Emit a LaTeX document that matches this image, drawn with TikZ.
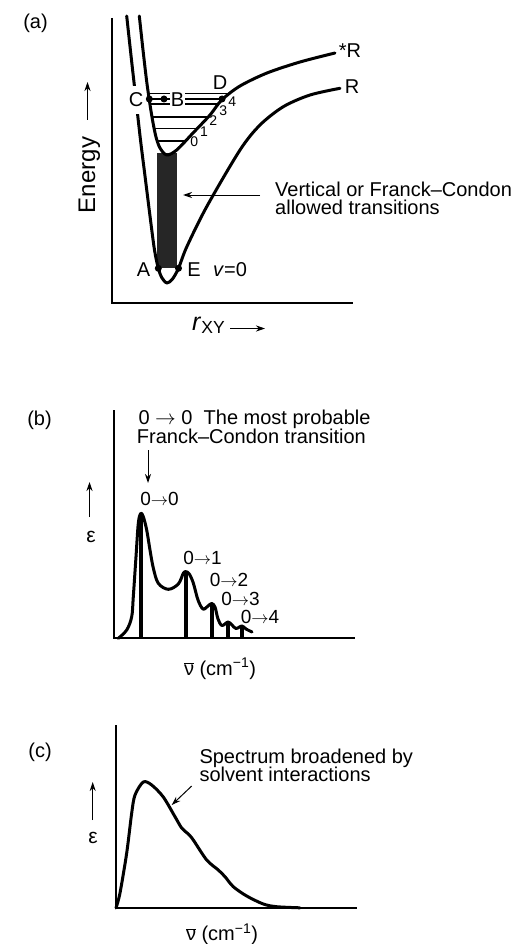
\documentclass[tikz,border=0pt]{standalone}
\usepackage{fontspec}
\setmainfont{Liberation Sans}
\usetikzlibrary{arrows.meta}
\begin{document}
\begin{tikzpicture}[x=1pt,y=-1pt,
  axisline/.style={line width=2.6pt, line join=miter},
  pcurve/.style={line width=3pt, line cap=round, line join=round},
  vlevel/.style={line width=1.1pt},
  specstick/.style={line width=4pt},
  tlabel/.style={font=\fontsize{20}{22}\selectfont, inner sep=0pt},
  plabel/.style={font=\fontsize{19}{20}\selectfont, inner sep=0pt},
  vnum/.style={font=\fontsize{14}{16}\selectfont, inner sep=0pt},
  thinarrow/.style={line width=1pt, -{Stealth[length=9pt,width=6pt]}},
  blob/.style={circle, fill=black, inner sep=0pt, minimum size=7pt},
]
\fill[white] (0,0) rectangle (516,944);
\useasboundingbox (0,0) rectangle (516,944);

% ---------------- Panel (a) ----------------
\node[tlabel] (la) at (35.5,23.5) {(a)};
\draw[axisline] (112,18) -- (112,303) -- (353,303);
\node[font=\fontsize{24}{26}\selectfont, rotate=90, anchor=base, inner sep=0pt] (energy) at (95,175) {Energy};
\coordinate (eA1) at (87.5,120); \coordinate (eA2) at (87.5,82);
\draw[thinarrow] (eA1) -- (eA2);
\node[anchor=base west, inner sep=0pt] (rxy) at (192,330) {\fontsize{25}{26}\selectfont\textit{r}\textsubscript{XY}};
\coordinate (rA1) at (230,328.5); \coordinate (rA2) at (265,328.5);
\draw[thinarrow] (rA1) -- (rA2);

% Franck-Condon band
\fill[black!85] (157,153) rectangle (177,268);

% vibrational levels, clipped to inside of the excited-state well
\begin{scope}
\clip plot[smooth] coordinates {(139.3,16) (143,50) (146.5,80) (149.3,100) (152.5,120) (156,137) (160,148) (166.7,155) (176.7,150) (193,133) (210,115) (221.7,100) (240,86) (267,73) (300,62) (335,53)} -- (335,0) -- (139.3,0) -- cycle;
\foreach \yy in {93.5,99,104,117,128.5,141} \draw[vlevel] (130,\yy) -- (250,\yy);
\end{scope}

% ground state R
\draw[pcurve] plot[smooth] coordinates {(126.7,16) (131.5,60) (136,100) (140.5,140) (145.5,180) (150.5,220) (154.5,250) (158.3,268.3) (162,278) (167,283) (172.5,279) (178.5,268.3) (186.7,247) (206.7,206.7) (240,150) (260,125) (283.3,106.7) (310,95) (340,88.3)};
\node[tlabel, anchor=base, fill=white, inner xsep=1pt, inner ysep=7pt] (lC) at (136,107) {C};
% excited state *R
\draw[pcurve] plot[smooth] coordinates {(139.3,16) (143,50) (146.5,80) (149.3,100) (152.5,120) (156,137) (160,148) (166.7,155) (176.7,150) (193,133) (210,115) (221.7,100) (240,86) (267,73) (300,62) (335,53)};

\node[tlabel, anchor=base, fill=white, inner xsep=1pt, inner ysep=0.5pt] (lB) at (177.5,106.7) {B};
\node[blob] (dC) at (149.3,99) {};
\node[blob] (dB) at (164,99) {};
\node[blob] (dD) at (222,99) {};
\node[blob] (dA) at (158.3,268.3) {};
\node[blob] (dE) at (178.5,268.3) {};
\node[tlabel, anchor=base] (lD) at (220,90) {D};
\node[tlabel, anchor=base] (lA) at (143.5,276.7) {A};
\node[tlabel, anchor=base] (lE) at (194,276.7) {E};
\node[tlabel, anchor=base west] (lv) at (213,276.7) {\textit{v}=0};
\node[tlabel, anchor=base] (lRs) at (350,58) {*R};
\node[tlabel, anchor=base] (lR) at (352,94) {R};

\node[vnum] (n0) at (194.3,141.7) {0};
\node[vnum] (n1) at (204,131.7) {1};
\node[vnum] (n2) at (213.3,120.7) {2};
\node[vnum] (n3) at (223.3,110.7) {3};
\node[vnum] (n4) at (232.3,101.7) {4};

\node[tlabel, anchor=base west] (ta1) at (275,196.7) {Vertical or Franck–Condon};
\node[tlabel, anchor=base west] (ta2) at (275,214.5) {allowed transitions};
\coordinate (aA1) at (260,195); \coordinate (aA2) at (183,195);
\draw[thinarrow] (aA1) -- (aA2);

% ---------------- Panel (b) ----------------
\node[tlabel] (lb) at (39.5,420) {(b)};
\draw[axisline] (114,410) -- (114,638) -- (355,638);
\node[tlabel, anchor=base west] (bt1) at (138.3,424.5) {0 $\rightarrow$ 0~~The most probable};
\node[tlabel, anchor=base west] (bt2) at (136.7,443.3) {Franck–Condon transition};
\coordinate (bA1) at (148,450); \coordinate (bA2) at (148,483);
\draw[thinarrow] (bA1) -- (bA2);
\node[plabel] (p00) at (159.5,498.5) {0$\rightarrow$0};
\node[font=\fontsize{21}{22}\selectfont, inner sep=0pt, anchor=base] (epsb) at (91,542) {ε};
\coordinate (bE1) at (89.5,517); \coordinate (bE2) at (89.5,482);
\draw[thinarrow] (bE1) -- (bE2);

\draw[pcurve] plot[smooth, tension=0.55] coordinates {(118.3,638.3) (126.7,630) (131.7,616.7) (133.3,596.7) (136,556.7) (138.3,523.3) (140.7,513.3) (143.3,516.7) (146.7,530) (150,550) (153.3,568) (158.3,583.3) (168.3,589.3) (178.3,584) (183.3,573.3) (186,571.7) (189.3,574) (193.3,583) (198,600) (203,609) (208,606) (211.7,603.5) (215,607) (218,619) (222,625.5) (228,622) (232,625) (236,628.5) (242,626) (246,629) (252,632)};
\draw[specstick] (140.7,513.3) -- (140.7,638);
\draw[specstick] (186,571.7) -- (186,638);
\draw[specstick] (211.7,603.5) -- (211.7,638);
\draw[specstick] (228,622) -- (228,638);
\draw[specstick] (242,626) -- (242,638);

\node[plabel] (p01) at (202.5,557.5) {0$\rightarrow$1};
\node[plabel] (p02) at (229,580) {0$\rightarrow$2};
\node[plabel] (p03) at (240.5,599) {0$\rightarrow$3};
\node[plabel] (p04) at (260,616.5) {0$\rightarrow$4};
\node[tlabel, anchor=base] (nub) at (220,675) {$\overline{\hbox{ν}}$ (cm\textsuperscript{−1})};

% ---------------- Panel (c) ----------------
\node[tlabel] (lc) at (40,752.5) {(c)};
\draw[axisline] (116,725) -- (116,908) -- (357,908);
\node[tlabel, anchor=base west] (ct1) at (199.3,763) {Spectrum broadened by};
\node[tlabel, anchor=base west] (ct2) at (199.3,781.7) {solvent interactions};
\coordinate (cA1) at (191.7,786); \coordinate (cA2) at (171.7,805);
\draw[thinarrow] (cA1) -- (cA2);
\node[font=\fontsize{21}{22}\selectfont, inner sep=0pt, anchor=base] (epsc) at (93,843) {ε};
\coordinate (cE1) at (92.7,820); \coordinate (cE2) at (92.7,782);
\draw[thinarrow] (cE1) -- (cE2);
\draw[pcurve] plot[smooth] coordinates {(116,908) (120,893) (126.7,853) (131.7,813) (135,795) (143.3,782) (151.7,785) (163.3,797) (175,816.7) (181.7,828) (188.3,834) (193.3,840) (206.7,860) (218.3,870) (225,876.7) (233.3,886.7) (246.7,896) (263.3,904) (276.7,906.7) (300,907.8)};
\node[tlabel, anchor=base] (nuc) at (222,940.7) {$\overline{\hbox{ν}}$ (cm\textsuperscript{−1})};
\end{tikzpicture}
\end{document}
